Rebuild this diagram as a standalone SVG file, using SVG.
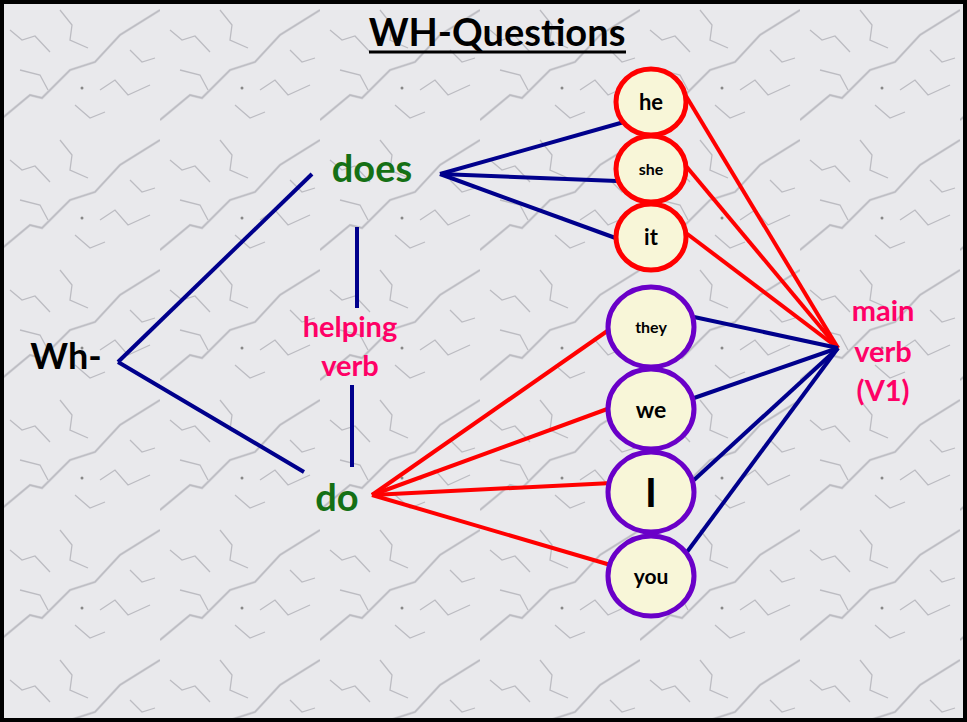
<svg xmlns="http://www.w3.org/2000/svg" width="967" height="722" viewBox="0 0 967 722">
<style>
.blue{stroke:#00008c;stroke-width:4;fill:none;stroke-linecap:butt}
.red{stroke:#ff0000;stroke-width:4;fill:none}
.rc{fill:#f8f6d8;stroke:#ff0000;stroke-width:5}
.pc{fill:#f8f6d8;stroke:#6a00c8;stroke-width:5}
.t{font-family:Lato,"Open Sans","Liberation Sans",sans-serif;font-weight:bold;text-anchor:middle}
.green{fill:#157015;font-size:38px}
.pink{fill:#ff0066;font-size:29px}
.k{fill:#000}
.vein{stroke:#bcbcc2;stroke-width:1.3;fill:none}
.vein2{stroke:#d0d0d5;stroke-width:2.5;fill:none}
</style>
<defs>
<pattern id="marble" width="160" height="130" patternUnits="userSpaceOnUse">
<rect width="160" height="130" fill="#e9e9ec"/>
<path class="vein2" d="M0 120 L30 95 L42 98 L70 70 L95 62 L120 35 L160 10"/>
<path class="vein" d="M10 30 L22 40 L35 36 L50 52 M60 10 L72 25 L70 40 L88 48 M100 90 L115 80 L128 95 L150 85 M20 70 L40 75 L48 90 M130 50 L142 62 L155 58 M75 105 L90 118 L105 112"/>
<path class="vein" d="M0 120 L30 95 L42 98 L70 70 L95 62 L120 35 L160 10"/>
<circle cx="82" cy="88" r="1.5" fill="#888"/>
</pattern>
</defs>
<rect x="2" y="2" width="963" height="718" fill="url(#marble)" stroke="#000" stroke-width="4"/>
<g id="title">
<text class="t k" x="497" y="46" font-size="38">WH-Questions</text>
<line x1="369" y1="52" x2="626" y2="52" stroke="#000" stroke-width="3"/>
</g>
<g id="connectors">
<line class="blue" x1="118" y1="362" x2="312" y2="174"/>
<line class="blue" x1="118" y1="362" x2="304" y2="472"/>
<line class="blue" x1="357" y1="227" x2="357" y2="308"/>
<line class="blue" x1="352" y1="385" x2="352" y2="467"/>
<line class="blue" x1="440" y1="174" x2="624" y2="122"/>
<line class="blue" x1="440" y1="174" x2="617" y2="181"/>
<line class="blue" x1="440" y1="174" x2="621" y2="240"/>
<line class="red" x1="372" y1="495" x2="613" y2="327"/>
<line class="red" x1="372" y1="495" x2="610" y2="408"/>
<line class="red" x1="372" y1="495" x2="612" y2="483"/>
<line class="red" x1="372" y1="495" x2="614" y2="566"/>
<line class="red" x1="686" y1="96" x2="838" y2="348"/>
<line class="red" x1="686" y1="166" x2="838" y2="348"/>
<line class="red" x1="686" y1="233" x2="838" y2="348"/>
<line class="blue" x1="694" y1="317" x2="838" y2="348"/>
<line class="blue" x1="694" y1="398" x2="838" y2="348"/>
<line class="blue" x1="694" y1="480" x2="838" y2="348"/>
<line class="blue" x1="687" y1="552" x2="838" y2="348"/>
</g>
<g id="wh"><text class="t k" x="66" y="369" font-size="36">Wh-</text></g>
<g id="does"><text class="t green" x="372" y="182">does</text></g>
<g id="do"><text class="t green" x="337" y="511">do</text></g>
<g id="helping"><text class="t pink" x="350" y="337">helping</text><text class="t pink" x="350" y="376">verb</text></g>
<g id="main"><text class="t pink" x="883" y="321">main</text><text class="t pink" x="883" y="362">verb</text><text class="t pink" x="883" y="401">(V1)</text></g>
<g id="he"><ellipse class="rc" cx="651" cy="102" rx="35" ry="33"/><text class="t k" x="651" y="110" font-size="22">he</text></g>
<g id="she"><ellipse class="rc" cx="651" cy="169" rx="35" ry="33"/><text class="t k" x="651" y="175" font-size="16">she</text></g>
<g id="it"><ellipse class="rc" cx="651" cy="237" rx="35" ry="33"/><text class="t k" x="651" y="245" font-size="22">it</text></g>
<g id="they"><ellipse class="pc" cx="651" cy="327" rx="43" ry="40"/><text class="t k" x="651" y="333" font-size="16">they</text></g>
<g id="we"><ellipse class="pc" cx="651" cy="409" rx="43" ry="40"/><text class="t k" x="651" y="418" font-size="23">we</text></g>
<g id="I"><ellipse class="pc" cx="651" cy="492" rx="43" ry="40"/><text class="t k" x="651" y="507" font-size="40">I</text></g>
<g id="you"><ellipse class="pc" cx="651" cy="576" rx="43" ry="40"/><text class="t k" x="651" y="584" font-size="21">you</text></g>
</svg>
